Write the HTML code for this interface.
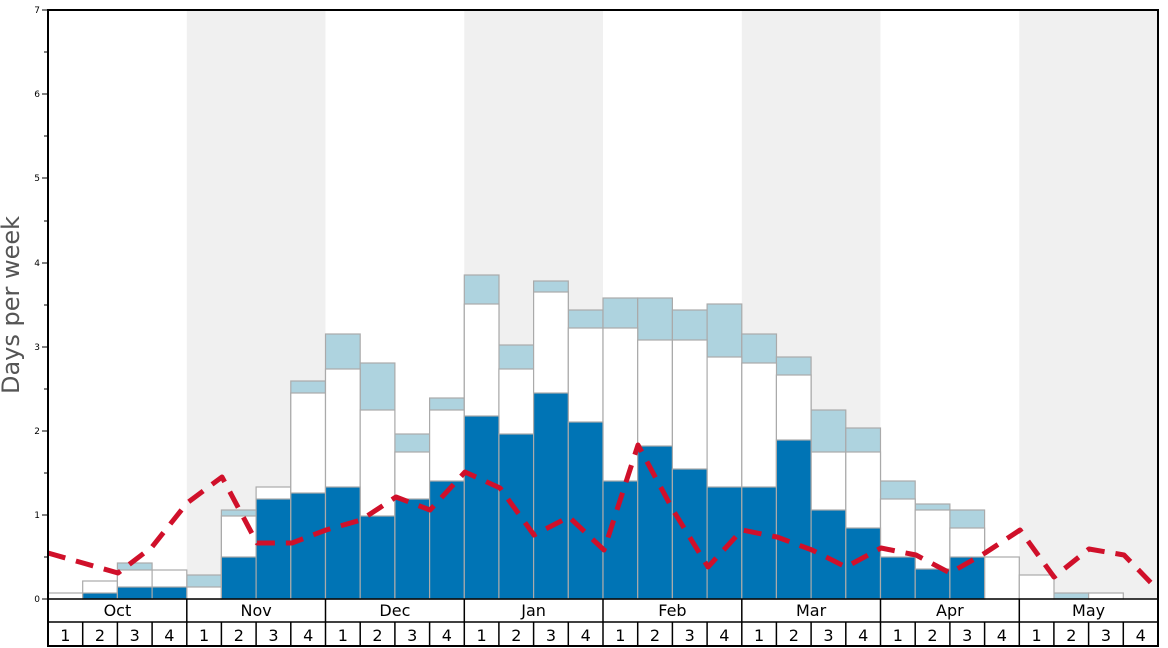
<!DOCTYPE html>
<html><head><meta charset="utf-8"><style>body{margin:0;background:#fff}svg{display:block}</style></head><body>
<svg width="1168" height="648" viewBox="0 0 1168 648" xmlns="http://www.w3.org/2000/svg" font-family="'DejaVu Sans','Liberation Sans',sans-serif">
<rect width="1168" height="648" fill="#fff"/>
<g fill="#f0f0f0">
<rect x="186.8" y="10" width="138.7" height="589"/>
<rect x="464.3" y="10" width="138.7" height="589"/>
<rect x="741.8" y="10" width="138.7" height="589"/>
<rect x="1019.3" y="10" width="138.7" height="589"/>
</g>
<g stroke="#aaa" stroke-width="1.2">
<g fill="#aed3df">
<rect x="117.4" y="563" width="34.69" height="36"/>
<rect x="186.8" y="575" width="34.69" height="24"/>
<rect x="221.4" y="510" width="34.69" height="89"/>
<rect x="290.8" y="381" width="34.69" height="218"/>
<rect x="325.5" y="334" width="34.69" height="265"/>
<rect x="360.2" y="363" width="34.69" height="236"/>
<rect x="394.9" y="434" width="34.69" height="165"/>
<rect x="429.6" y="398" width="34.69" height="201"/>
<rect x="464.3" y="275" width="34.69" height="324"/>
<rect x="498.9" y="345" width="34.69" height="254"/>
<rect x="533.6" y="281" width="34.69" height="318"/>
<rect x="568.3" y="310" width="34.69" height="289"/>
<rect x="603" y="298" width="34.69" height="301"/>
<rect x="637.7" y="298" width="34.69" height="301"/>
<rect x="672.4" y="310" width="34.69" height="289"/>
<rect x="707.1" y="304" width="34.69" height="295"/>
<rect x="741.8" y="334" width="34.69" height="265"/>
<rect x="776.4" y="357" width="34.69" height="242"/>
<rect x="811.1" y="410" width="34.69" height="189"/>
<rect x="845.8" y="428" width="34.69" height="171"/>
<rect x="880.5" y="481" width="34.69" height="118"/>
<rect x="915.2" y="504" width="34.69" height="95"/>
<rect x="949.9" y="510" width="34.69" height="89"/>
<rect x="1053.9" y="593" width="34.69" height="6"/>
</g>
<g fill="#fff">
<rect x="48" y="593" width="34.69" height="6"/>
<rect x="82.7" y="581" width="34.69" height="18"/>
<rect x="117.4" y="570" width="34.69" height="29"/>
<rect x="152.1" y="570" width="34.69" height="29"/>
<rect x="186.8" y="587" width="34.69" height="12"/>
<rect x="221.4" y="516" width="34.69" height="83"/>
<rect x="256.1" y="487" width="34.69" height="112"/>
<rect x="290.8" y="393" width="34.69" height="206"/>
<rect x="325.5" y="369" width="34.69" height="230"/>
<rect x="360.2" y="410" width="34.69" height="189"/>
<rect x="394.9" y="452" width="34.69" height="147"/>
<rect x="429.6" y="410" width="34.69" height="189"/>
<rect x="464.3" y="304" width="34.69" height="295"/>
<rect x="498.9" y="369" width="34.69" height="230"/>
<rect x="533.6" y="292" width="34.69" height="307"/>
<rect x="568.3" y="328" width="34.69" height="271"/>
<rect x="603" y="328" width="34.69" height="271"/>
<rect x="637.7" y="340" width="34.69" height="259"/>
<rect x="672.4" y="340" width="34.69" height="259"/>
<rect x="707.1" y="357" width="34.69" height="242"/>
<rect x="741.8" y="363" width="34.69" height="236"/>
<rect x="776.4" y="375" width="34.69" height="224"/>
<rect x="811.1" y="452" width="34.69" height="147"/>
<rect x="845.8" y="452" width="34.69" height="147"/>
<rect x="880.5" y="499" width="34.69" height="100"/>
<rect x="915.2" y="510" width="34.69" height="89"/>
<rect x="949.9" y="528" width="34.69" height="71"/>
<rect x="984.6" y="557" width="34.69" height="42"/>
<rect x="1019.3" y="575" width="34.69" height="24"/>
<rect x="1088.6" y="593" width="34.69" height="6"/>
</g>
<g fill="#0074b5">
<rect x="82.7" y="593" width="34.69" height="6"/>
<rect x="117.4" y="587" width="34.69" height="12"/>
<rect x="152.1" y="587" width="34.69" height="12"/>
<rect x="221.4" y="557" width="34.69" height="42"/>
<rect x="256.1" y="499" width="34.69" height="100"/>
<rect x="290.8" y="493" width="34.69" height="106"/>
<rect x="325.5" y="487" width="34.69" height="112"/>
<rect x="360.2" y="516" width="34.69" height="83"/>
<rect x="394.9" y="499" width="34.69" height="100"/>
<rect x="429.6" y="481" width="34.69" height="118"/>
<rect x="464.3" y="416" width="34.69" height="183"/>
<rect x="498.9" y="434" width="34.69" height="165"/>
<rect x="533.6" y="393" width="34.69" height="206"/>
<rect x="568.3" y="422" width="34.69" height="177"/>
<rect x="603" y="481" width="34.69" height="118"/>
<rect x="637.7" y="446" width="34.69" height="153"/>
<rect x="672.4" y="469" width="34.69" height="130"/>
<rect x="707.1" y="487" width="34.69" height="112"/>
<rect x="741.8" y="487" width="34.69" height="112"/>
<rect x="776.4" y="440" width="34.69" height="159"/>
<rect x="811.1" y="510" width="34.69" height="89"/>
<rect x="845.8" y="528" width="34.69" height="71"/>
<rect x="880.5" y="557" width="34.69" height="42"/>
<rect x="915.2" y="569" width="34.69" height="30"/>
<rect x="949.9" y="557" width="34.69" height="42"/>
</g>
</g>
<polyline fill="none" stroke="#d0102a" stroke-width="5" stroke-dasharray="18,11" stroke-linejoin="round"
points="48,553 83,563 118,573 152,547 187,503 222,477 257,543 292,543 326,530 361,520 396,497 430,510 465,472 500,488 534,535 569,517 604,550 638,445 673,510 708,567 742,530 777,537 812,550 846,567 881,548 916,555 950,573 985,553 1020,530 1054,577 1089,549 1124,555 1158,590"/>
<rect x="48" y="10" width="1110" height="636" fill="none" stroke="#000" stroke-width="2"/>
<line x1="48" y1="599" x2="1158" y2="599" stroke="#000" stroke-width="1.5"/>
<line x1="48" y1="622" x2="1158" y2="622" stroke="#000" stroke-width="1.5"/>
<g stroke="#000" stroke-width="1.5">
<line x1="186.8" y1="599" x2="186.8" y2="646"/><line x1="325.5" y1="599" x2="325.5" y2="646"/>
<line x1="464.3" y1="599" x2="464.3" y2="646"/><line x1="603" y1="599" x2="603" y2="646"/>
<line x1="741.8" y1="599" x2="741.8" y2="646"/><line x1="880.5" y1="599" x2="880.5" y2="646"/>
<line x1="1019.3" y1="599" x2="1019.3" y2="646"/>
<line x1="82.7" y1="622" x2="82.7" y2="646"/><line x1="117.4" y1="622" x2="117.4" y2="646"/><line x1="152.1" y1="622" x2="152.1" y2="646"/>
<line x1="221.4" y1="622" x2="221.4" y2="646"/><line x1="256.1" y1="622" x2="256.1" y2="646"/><line x1="290.8" y1="622" x2="290.8" y2="646"/>
<line x1="360.2" y1="622" x2="360.2" y2="646"/><line x1="394.9" y1="622" x2="394.9" y2="646"/><line x1="429.6" y1="622" x2="429.6" y2="646"/>
<line x1="498.9" y1="622" x2="498.9" y2="646"/><line x1="533.6" y1="622" x2="533.6" y2="646"/><line x1="568.3" y1="622" x2="568.3" y2="646"/>
<line x1="637.7" y1="622" x2="637.7" y2="646"/><line x1="672.4" y1="622" x2="672.4" y2="646"/><line x1="707.1" y1="622" x2="707.1" y2="646"/>
<line x1="776.4" y1="622" x2="776.4" y2="646"/><line x1="811.1" y1="622" x2="811.1" y2="646"/><line x1="845.8" y1="622" x2="845.8" y2="646"/>
<line x1="915.2" y1="622" x2="915.2" y2="646"/><line x1="949.9" y1="622" x2="949.9" y2="646"/><line x1="984.6" y1="622" x2="984.6" y2="646"/>
<line x1="1053.9" y1="622" x2="1053.9" y2="646"/><line x1="1088.6" y1="622" x2="1088.6" y2="646"/><line x1="1123.3" y1="622" x2="1123.3" y2="646"/>
</g>
<g stroke="#000" stroke-width="1">
<line x1="42" y1="599" x2="48" y2="599"/><line x1="44" y1="557" x2="48" y2="557"/>
<line x1="42" y1="515" x2="48" y2="515"/><line x1="44" y1="473" x2="48" y2="473"/>
<line x1="42" y1="431" x2="48" y2="431"/><line x1="44" y1="389" x2="48" y2="389"/>
<line x1="42" y1="347" x2="48" y2="347"/><line x1="44" y1="305" x2="48" y2="305"/>
<line x1="42" y1="263" x2="48" y2="263"/><line x1="44" y1="221" x2="48" y2="221"/>
<line x1="42" y1="178" x2="48" y2="178"/><line x1="44" y1="136" x2="48" y2="136"/>
<line x1="42" y1="94" x2="48" y2="94"/><line x1="44" y1="52" x2="48" y2="52"/>
<line x1="42" y1="10" x2="48" y2="10"/>
</g>
<g font-size="9" text-anchor="end" fill="#000">
<text x="40" y="602">0</text><text x="40" y="518">1</text><text x="40" y="434">2</text>
<text x="40" y="350">3</text><text x="40" y="266">4</text><text x="40" y="181">5</text>
<text x="40" y="97">6</text><text x="40" y="13">7</text>
</g>
<text transform="translate(19,305) rotate(-90)" font-size="24" fill="#555" text-anchor="middle">Days per week</text>
<g font-size="16" text-anchor="middle" fill="#000">
<text x="117.4" y="616">Oct</text><text x="256.1" y="616">Nov</text><text x="394.9" y="616">Dec</text>
<text x="533.6" y="616">Jan</text><text x="672.4" y="616">Feb</text><text x="811.1" y="616">Mar</text>
<text x="949.9" y="616">Apr</text><text x="1088.6" y="616">May</text>
</g>
<g font-size="16" text-anchor="middle" fill="#000">
<text x="65.3" y="641">1</text><text x="100" y="641">2</text><text x="134.7" y="641">3</text><text x="169.4" y="641">4</text>
<text x="204.1" y="641">1</text><text x="238.8" y="641">2</text><text x="273.5" y="641">3</text><text x="308.2" y="641">4</text>
<text x="342.8" y="641">1</text><text x="377.5" y="641">2</text><text x="412.2" y="641">3</text><text x="446.9" y="641">4</text>
<text x="481.6" y="641">1</text><text x="516.3" y="641">2</text><text x="551" y="641">3</text><text x="585.7" y="641">4</text>
<text x="620.3" y="641">1</text><text x="655" y="641">2</text><text x="689.7" y="641">3</text><text x="724.4" y="641">4</text>
<text x="759.1" y="641">1</text><text x="793.8" y="641">2</text><text x="828.5" y="641">3</text><text x="863.2" y="641">4</text>
<text x="897.8" y="641">1</text><text x="932.5" y="641">2</text><text x="967.2" y="641">3</text><text x="1001.9" y="641">4</text>
<text x="1036.6" y="641">1</text><text x="1071.3" y="641">2</text><text x="1106" y="641">3</text><text x="1140.7" y="641">4</text>
</g>
</svg>
</body></html>
